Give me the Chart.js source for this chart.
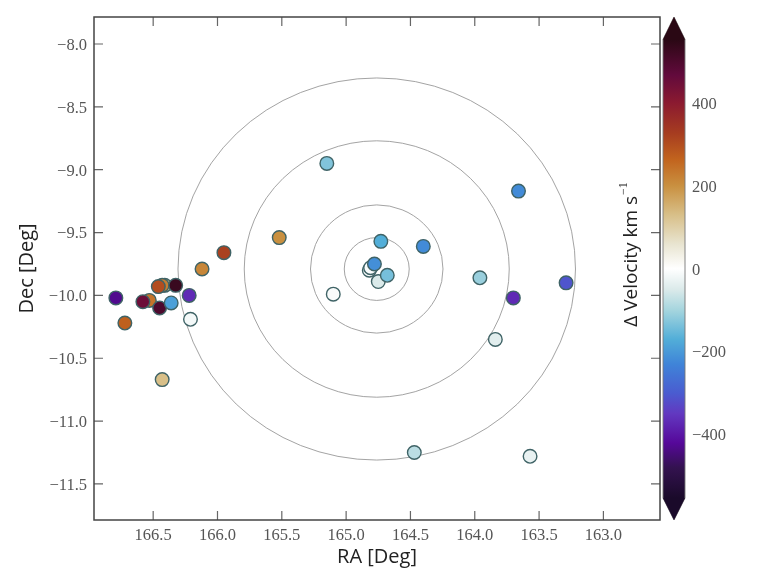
<!DOCTYPE html>
<html><head><meta charset="utf-8">
<style>html,body{margin:0;padding:0;background:#fff}canvas{display:block}</style>
<script src="https://cdn.jsdelivr.net/npm/chart.js@4"></script></head>
<body><canvas id="c" width="781" height="586"></canvas>
<script>
const ra  = [166.79,166.72,166.53,166.58,166.41,166.43,166.46,166.325,166.45,166.36,166.22,166.21,166.12,165.95,166.43,165.52,165.15,165.10,164.73,164.40,163.66,163.29,163.96,163.70,163.84,164.47,163.57,164.82,164.81,164.75,164.68,164.78];
const dec = [-10.02,-10.22,-10.04,-10.05,-9.92,-9.92,-9.93,-9.92,-10.10,-10.06,-10.00,-10.19,-9.79,-9.66,-10.67,-9.54,-8.95,-9.99,-9.57,-9.61,-9.17,-9.90,-9.86,-10.02,-10.35,-11.25,-11.28,-9.80,-9.78,-9.89,-9.84,-9.75];
const dv  = [-430,270,240,450,140,225,300,530,500,-190,-370,-15,215,320,130,200,-130,-10,-170,-220,-220,-310,-110,-370,-40,-80,-30,-5,-8,-50,-140,-215];
const xTicks = [166.5,166.0,165.5,165.0,164.5,164.0,163.5,163.0];
const yTicks = [-8.0,-8.5,-9.0,-9.5,-10.0,-10.5,-11.0,-11.5];
const cbTicks = [-400,-200,0,200,400];
const ringCentre = [164.762,-9.79];
const ringRadiiRa = [0.2525,0.515,1.03,1.545];
const ringRadiiDec = [0.25,0.51,1.02,1.52];
const cbRange = [-553,553];
const cmapValues = [-553,-480,-420,-350,-300,-230,-170,-100,-50,0,60,130,200,263,328,400,467,553];
const cmapColors = ['#1a0a2a','#33124f','#56089a','#6238c0','#4a5cd0','#3f84d8','#52aed8','#a5d5de','#dbeaea','#ffffff','#e8e4d0','#d8bf88','#c99040','#c2641e','#a63c20','#8b1a30','#620a3c','#2a0814'];
const rgb = h => [1,3,5].map(i=>parseInt(h.substr(i,2),16));
function colorOf(v){
  for(let i=1;i<cmapValues.length;i++){
    if(v<=cmapValues[i]){
      const t=(v-cmapValues[i-1])/(cmapValues[i]-cmapValues[i-1]);
      const a=rgb(cmapColors[i-1]),b=rgb(cmapColors[i]);
      return 'rgb('+a.map((c,k)=>Math.round(c+(b[k]-c)*t)).join(',')+')';
    }
  }
  return cmapColors[cmapColors.length-1];
}
function noPad(s){s.paddingTop=0;s.paddingBottom=0;s.paddingLeft=0;s.paddingRight=0;}
const overlay = {
  id:'overlay',
  beforeDatasetsDraw(ch){
    const {x,y}=ch.scales,c=ch.ctx;
    c.save();c.strokeStyle='#999';c.lineWidth=0.9;
    ringRadiiRa.forEach((r,i)=>{
      const cx=x.getPixelForValue(ringCentre[0]),cy=y.getPixelForValue(ringCentre[1]);
      const rx=Math.abs(x.getPixelForValue(ringCentre[0]+r)-cx);
      const ry=Math.abs(y.getPixelForValue(ringCentre[1]+ringRadiiDec[i])-cy);
      c.beginPath();c.ellipse(cx,cy,rx,ry,0,0,Math.PI*2);c.stroke();
    });
    c.restore();
  },
  afterDraw(ch){
    const {x,y,cb}=ch.scales,c=ch.ctx,a=ch.chartArea;
    c.save();
    c.strokeStyle='#666';c.lineWidth=1.2;
    xTicks.forEach(t=>{const p=x.getPixelForValue(t);
      c.beginPath();c.moveTo(p,a.bottom);c.lineTo(p,a.bottom-9);c.moveTo(p,a.top);c.lineTo(p,a.top+9);c.stroke();});
    yTicks.forEach(t=>{const p=y.getPixelForValue(t);
      c.beginPath();c.moveTo(a.left,p);c.lineTo(a.left+9,p);c.moveTo(a.right,p);c.lineTo(a.right-9,p);c.stroke();});
    c.strokeStyle='#444';c.lineWidth=1.5;
    c.strokeRect(a.left,a.top,a.right-a.left,a.bottom-a.top);
    const L=a.right+3,R=a.right+25,T=cb.getPixelForValue(cbRange[1]),B=cb.getPixelForValue(cbRange[0]);
    const g=c.createLinearGradient(0,B,0,T);
    cmapValues.forEach((v,i)=>g.addColorStop((v-cbRange[0])/(cbRange[1]-cbRange[0]),cmapColors[i]));
    c.beginPath();c.moveTo(L,T);c.lineTo((L+R)/2,a.top);c.lineTo(R,T);c.lineTo(R,B);c.lineTo((L+R)/2,a.bottom);c.lineTo(L,B);c.closePath();
    c.fillStyle=g;c.fill();c.strokeStyle='#777';c.lineWidth=0.9;c.stroke();
    c.fillStyle=cmapColors[cmapColors.length-1];
    c.beginPath();c.moveTo(L,T);c.lineTo((L+R)/2,a.top);c.lineTo(R,T);c.closePath();c.fill();
    c.fillStyle=cmapColors[0];
    c.beginPath();c.moveTo(L,B);c.lineTo((L+R)/2,a.bottom);c.lineTo(R,B);c.closePath();c.fill();
    c.translate(632,255);c.rotate(-Math.PI/2);
    c.fillStyle='#222';c.textBaseline='middle';c.textAlign='left';
    const f1='19px "Open Sans"',f2='12px "Liberation Serif"';
    c.font=f1;const m=c.measureText('Δ Velocity km s').width;
    c.font=f2;const m2=c.measureText('−1').width;
    c.font=f1;c.fillText('Δ Velocity km s',-(m+m2)/2,0);
    c.font=f2;c.fillText('−1',-(m+m2)/2+m+1,-8);
    c.restore();
  }
};
new Chart(document.getElementById('c'),{
  type:'scatter',
  data:{datasets:[{
    data:ra.map((v,i)=>({x:v,y:dec[i]})),
    backgroundColor:dv.map(colorOf),
    borderColor:'#3f6366',borderWidth:1.4,pointRadius:6.8,pointHoverRadius:6.8
  }]},
  plugins:[overlay],
  options:{
    responsive:false,animation:false,devicePixelRatio:1,
    layout:{padding:{top:17,left:0,right:0,bottom:0}},
    plugins:{legend:{display:false},tooltip:{enabled:false}},
    scales:{
      x:{type:'linear',reverse:true,min:162.56,max:166.96,position:'bottom',
        grid:{display:false,drawTicks:false},border:{display:false},
        afterBuildTicks(s){s.ticks=xTicks.map(v=>({value:v}));},
        afterFit(s){s.height=66;noPad(s);},
        ticks:{autoSkip:false,maxRotation:0,color:'#555',padding:6,font:{family:'"Liberation Serif"',size:16.5},callback:v=>v.toFixed(1)},
        title:{display:true,text:'RA [Deg]',color:'#222',padding:{top:0,bottom:17},font:{family:'"Open Sans"',size:20}}},
      y:{type:'linear',min:-11.787,max:-7.785,position:'left',
        grid:{display:false,drawTicks:false},border:{display:false},
        afterBuildTicks(s){s.ticks=yTicks.map(v=>({value:v}));},
        afterFit(s){s.width=94;noPad(s);},
        ticks:{autoSkip:false,color:'#555',padding:7,labelOffset:1.5,font:{family:'"Liberation Serif"',size:16.5},callback:v=>'−'+Math.abs(v).toFixed(1)},
        title:{display:true,text:'Dec [Deg]',color:'#222',padding:{top:15,bottom:0},font:{family:'"Open Sans"',size:20}}},
      cb:{type:'linear',min:-606,max:607,position:'right',
        grid:{display:false,drawTicks:false},border:{display:false},
        afterBuildTicks(s){s.ticks=cbTicks.map(v=>({value:v}));},
        afterFit(s){s.width=121;noPad(s);},
        ticks:{autoSkip:false,color:'#555',padding:32,labelOffset:1.5,font:{family:'"Liberation Serif"',size:16.5},callback:v=>v<0?'−'+Math.abs(v):String(v)}}
    }
  }
});
</script></body></html>
